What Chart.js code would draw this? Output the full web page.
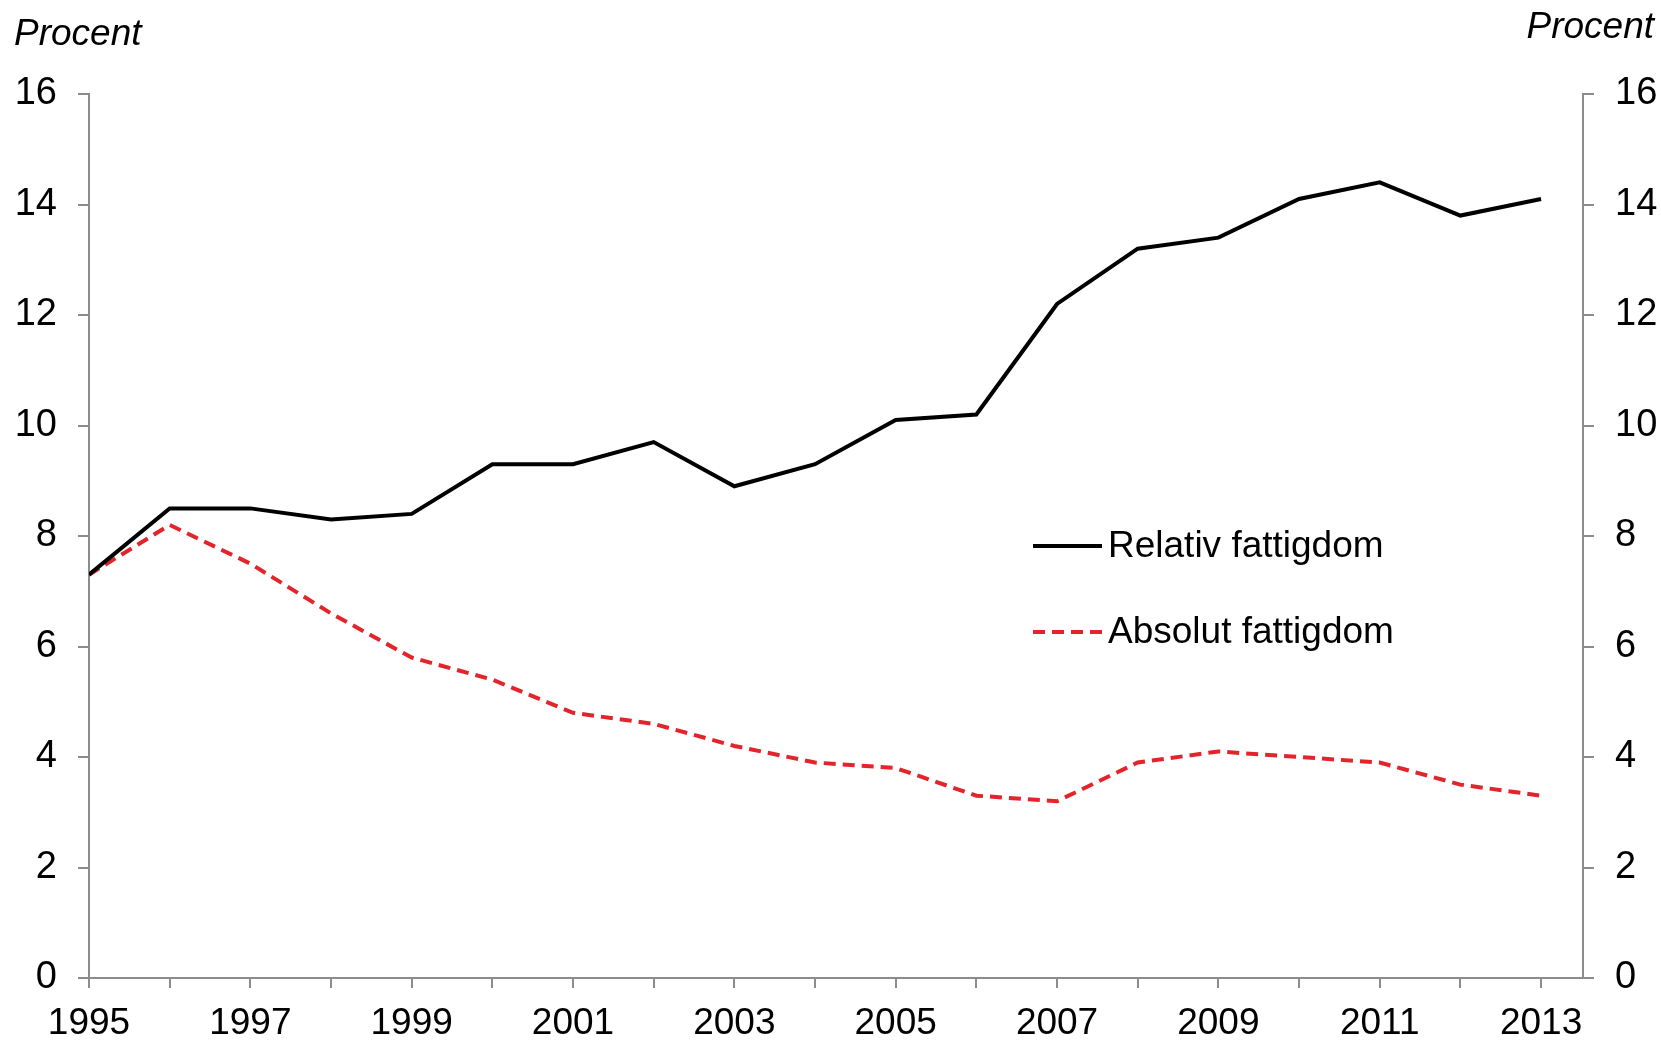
<!DOCTYPE html>
<html>
<head>
<meta charset="utf-8">
<script src="https://cdn.jsdelivr.net/npm/chart.js@4/dist/chart.umd.min.js"></script>
<style>
  html, body { margin: 0; padding: 0; background: #fff; }
  #wrap { width: 1661px; height: 1040px; }
</style>
</head>
<body>
<div id="wrap"><canvas id="fattigdom" width="1661" height="1040"></canvas></div>
<script>
const years = [1995, 1996, 1997, 1998, 1999, 2000, 2001, 2002, 2003, 2004,
  2005, 2006, 2007, 2008, 2009, 2010, 2011, 2012, 2013];
const relativ = [7.3, 8.5, 8.5, 8.3, 8.4, 9.3, 9.3, 9.7, 8.9, 9.3,
  10.1, 10.2, 12.2, 13.2, 13.4, 14.1, 14.4, 13.8, 14.1];
const absolut = [7.3, 8.2, 7.5, 6.6, 5.8, 5.4, 4.8, 4.6, 4.2, 3.9,
  3.8, 3.3, 3.2, 3.9, 4.1, 4.0, 3.9, 3.5, 3.3];
const yTicks = [0, 2, 4, 6, 8, 10, 12, 14, 16];

const FONT = '"Liberation Sans", Arial, sans-serif';
const axisGrey = '#8c8c8c';
const red = '#e3242b';

// legend and "Procent" titles drawn on the canvas
const extras = {
  id: 'extras',
  afterDraw(chart) {
    const ctx = chart.ctx;
    ctx.save();
    ctx.fillStyle = '#000';
    ctx.font = 'italic 37px ' + FONT;
    ctx.textAlign = 'left';
    ctx.textBaseline = 'alphabetic';
    ctx.fillText('Procent', 14, 45);
    ctx.textAlign = 'right';
    ctx.fillText('Procent', 1654, 38);

    const items = [
      { label: 'Relativ fattigdom', color: '#000', dash: [], y: 546 },
      { label: 'Absolut fattigdom', color: red, dash: [12, 7], y: 632 }
    ];
    ctx.font = '37px ' + FONT;
    ctx.textAlign = 'left';
    ctx.textBaseline = 'middle';
    items.forEach(it => {
      ctx.beginPath();
      ctx.setLineDash(it.dash);
      ctx.strokeStyle = it.color;
      ctx.lineWidth = 4;
      ctx.moveTo(1033, it.y);
      ctx.lineTo(1102, it.y);
      ctx.stroke();
      ctx.setLineDash([]);
      ctx.fillStyle = '#000';
      ctx.fillText(it.label, 1108, it.y + 1);
    });
    ctx.restore();
  }
};

const yAxis = (pos, width) => ({
  type: 'linear',
  position: pos,
  min: 0,
  max: 16,
  afterBuildTicks: s => { s.ticks = yTicks.map(v => ({ value: v })); },
  afterFit: s => { s.width = width; },
  grid: { drawOnChartArea: false, drawTicks: true, tickLength: 11, color: axisGrey, lineWidth: 2 },
  border: { color: axisGrey, width: 2 },
  ticks: { color: '#000', font: { family: FONT, size: 38 }, padding: 21 }
});

new Chart(document.getElementById('fattigdom'), {
  type: 'line',
  data: {
    datasets: [
      {
        label: 'Relativ fattigdom',
        data: years.map((y, i) => ({ x: y, y: relativ[i] })),
        borderColor: '#000',
        borderWidth: 4,
        pointRadius: 0,
        tension: 0,
        yAxisID: 'y'
      },
      {
        label: 'Absolut fattigdom',
        data: years.map((y, i) => ({ x: y, y: absolut[i] })),
        borderColor: red,
        borderWidth: 4,
        borderDash: [12, 7],
        pointRadius: 0,
        tension: 0,
        yAxisID: 'y'
      }
    ]
  },
  options: {
    responsive: false,
    animation: false,
    layout: { padding: { top: 94, left: 0, right: 0, bottom: 0 } },
    plugins: { legend: { display: false }, tooltip: { enabled: false } },
    scales: {
      x: {
        type: 'linear',
        min: 1995,
        max: 2013.52,
        afterBuildTicks: s => { s.ticks = years.map(v => ({ value: v })); },
        afterFit: s => { s.height = 62; },
        grid: { drawOnChartArea: false, drawTicks: true, tickLength: 10, color: axisGrey, lineWidth: 2 },
        border: { color: axisGrey, width: 2 },
        ticks: {
          color: '#000',
          font: { family: FONT, size: 37 },
          padding: 14,
          autoSkip: false,
          maxRotation: 0,
          callback: v => (v % 2 === 1 ? String(v) : '')
        }
      },
      y: yAxis('left', 89),
      y2: yAxis('right', 78)
    }
  },
  plugins: [extras]
});
</script>
</body>
</html>
